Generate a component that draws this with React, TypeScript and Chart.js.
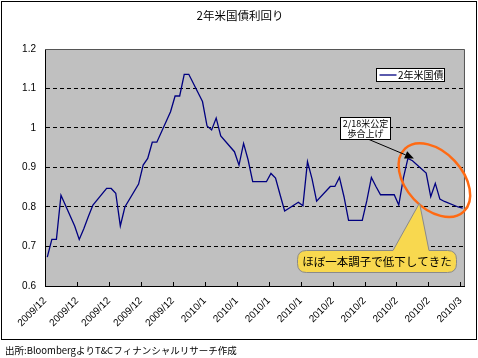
import { useEffect, useRef } from "react";
import { Chart, registerables } from "chart.js";

Chart.register(...registerables);

// ---- data ----
const chartTitle = "2年米国債利回り";
const seriesLabel = "2年米国債";
const sourceNote = "出所:BloombergよりT&Cフィナンシャルリサーチ作成";
const calloutLines = ["2/18米公定", "歩合上げ"];
const trendNote = "ほぼ一本調子で低下してきた";

const dates = [
  "2009-12-01", "2009-12-02", "2009-12-03", "2009-12-04", "2009-12-07", "2009-12-08",
  "2009-12-09", "2009-12-10", "2009-12-11", "2009-12-14", "2009-12-15", "2009-12-16",
  "2009-12-17", "2009-12-18", "2009-12-21", "2009-12-22", "2009-12-23", "2009-12-24",
  "2009-12-25", "2009-12-28", "2009-12-29", "2009-12-30", "2009-12-31", "2010-01-01",
  "2010-01-04", "2010-01-05", "2010-01-06", "2010-01-07", "2010-01-08", "2010-01-11",
  "2010-01-12", "2010-01-13", "2010-01-14", "2010-01-15", "2010-01-18", "2010-01-19",
  "2010-01-20", "2010-01-21", "2010-01-22", "2010-01-25", "2010-01-26", "2010-01-27",
  "2010-01-28", "2010-01-29", "2010-02-01", "2010-02-02", "2010-02-03", "2010-02-04",
  "2010-02-05", "2010-02-08", "2010-02-09", "2010-02-10", "2010-02-11", "2010-02-12",
  "2010-02-15", "2010-02-16", "2010-02-17", "2010-02-18", "2010-02-19", "2010-02-22",
  "2010-02-23", "2010-02-24", "2010-02-25", "2010-02-26", "2010-03-01", "2010-03-02",
];

const yields = [
  0.673, 0.718, 0.718, 0.830, 0.752, 0.718,
  0.745, 0.776, 0.805, 0.847, 0.847, 0.835,
  0.752, 0.800, 0.858, 0.906, 0.923, 0.964,
  0.964, 1.041, 1.081, 1.081, 1.136, 1.136,
  1.067, 1.005, 0.995, 1.025, 0.980, 0.940,
  0.906, 0.961, 0.919, 0.864, 0.864, 0.885,
  0.873, 0.831, 0.790, 0.812, 0.803, 0.915,
  0.871, 0.815, 0.852, 0.852, 0.875, 0.826,
  0.766, 0.766, 0.816, 0.875, 0.852, 0.831,
  0.831, 0.805, 0.873, 0.923, 0.917, 0.886,
  0.826, 0.860, 0.820, 0.814, 0.800, 0.797,
];

const xTickLabels = [
  "2009/12", "2009/12", "2009/12", "2009/12", "2009/12",
  "2010/1", "2010/1", "2010/1", "2010/1",
  "2010/2", "2010/2", "2010/2", "2010/2",
  "2010/3",
];
const yTicks = [0.6, 0.7, 0.8, 0.9, 1.0, 1.1, 1.2];

// ---- helpers ----
const START = Date.UTC(2009, 11, 1);
const DAY = 86400000;
const dayIndex = (s: string) => {
  const [y, m, d] = s.split("-").map(Number);
  return (Date.UTC(y, m - 1, d) - START) / DAY;
};
const X_MAX = dayIndex("2010-03-03");
const TICK_STEP = 7;

const FONT_JP = "'Noto Sans CJK JP', 'Noto Sans', sans-serif";
const FONT_LAT = "'Liberation Sans', Arial, sans-serif";
const LINE_COLOR = "#000080";

const decorPlugin = {
  id: "decor",
  beforeDraw(chart: any) {
    const { ctx, chartArea: a } = chart;
    ctx.save();
    ctx.fillStyle = "#ffffff";
    ctx.fillRect(0, 0, chart.width, chart.height);
    ctx.fillStyle = "#c0c0c0";
    ctx.fillRect(a.left, a.top, a.right - a.left, a.bottom - a.top);
    ctx.restore();
  },
  afterDraw(chart: any) {
    const { ctx, chartArea: a } = chart;
    const xs = chart.scales.x;
    const ys = chart.scales.y;
    ctx.save();

    // plot border (top / right)
    ctx.strokeStyle = "#555555";
    ctx.lineWidth = 1;
    ctx.beginPath();
    ctx.moveTo(a.left, a.top + 0.5);
    ctx.lineTo(a.right - 0.5, a.top + 0.5);
    ctx.lineTo(a.right - 0.5, a.bottom);
    ctx.stroke();

    // x tick marks (inside)
    ctx.strokeStyle = "#000";
    ctx.beginPath();
    xs.ticks.forEach((t: any) => {
      const px = Math.round(xs.getPixelForValue(t.value)) + 0.5;
      ctx.moveTo(px, a.bottom);
      ctx.lineTo(px, a.bottom - 4);
    });
    ctx.stroke();

    // orange ellipse
    const ecx = xs.getPixelForValue(85.3);
    const ecy = ys.getPixelForValue(0.868);
    ctx.strokeStyle = "#ff6a13";
    ctx.lineWidth = 2.5;
    ctx.beginPath();
    ctx.ellipse(ecx, ecy, 43, 28, (47 * Math.PI) / 180, 0, Math.PI * 2);
    ctx.stroke();

    // callout box with arrow
    const spikeIdx = dates.indexOf("2010-02-18");
    const tipX = xs.getPixelForValue(dayIndex(dates[spikeIdx]) + 0.5) + 6;
    const tipY = ys.getPixelForValue(yields[spikeIdx]);
    const bx = 340.5, by = 117.5, bw = 50, bh = 22;
    const sx = 369, sy = by + bh;
    ctx.strokeStyle = "#000";
    ctx.lineWidth = 1;
    const ang = Math.atan2(tipY - sy, tipX - sx);
    const hl = 9, hw = 4;
    const baseX = tipX - hl * Math.cos(ang), baseY = tipY - hl * Math.sin(ang);
    ctx.beginPath();
    ctx.moveTo(sx, sy);
    ctx.lineTo(baseX, baseY);
    ctx.stroke();
    ctx.fillStyle = "#000";
    ctx.beginPath();
    ctx.moveTo(tipX, tipY);
    ctx.lineTo(baseX + hw * Math.sin(ang), baseY - hw * Math.cos(ang));
    ctx.lineTo(baseX - hw * Math.sin(ang), baseY + hw * Math.cos(ang));
    ctx.closePath();
    ctx.fill();
    ctx.fillStyle = "#fff";
    ctx.fillRect(bx, by, bw, bh);
    ctx.strokeRect(bx, by, bw, bh);
    ctx.fillStyle = "#000";
    ctx.font = `9px ${FONT_JP}`;
    ctx.textAlign = "center";
    ctx.textBaseline = "middle";
    ctx.fillText(calloutLines[0], bx + bw / 2, by + 6);
    ctx.fillText(calloutLines[1], bx + bw / 2, by + 16);

    // yellow callout
    const rx = 297.5, ry = 250.5, rw = 159, rh = 22, r = 9;
    const apX = 419.5, apY = 203;
    const b1 = 393, b2 = 429;
    ctx.beginPath();
    ctx.moveTo(rx + r, ry);
    ctx.lineTo(b1, ry);
    ctx.lineTo(apX, apY);
    ctx.lineTo(b2, ry);
    ctx.lineTo(rx + rw - r, ry);
    ctx.quadraticCurveTo(rx + rw, ry, rx + rw, ry + r);
    ctx.lineTo(rx + rw, ry + rh - r);
    ctx.quadraticCurveTo(rx + rw, ry + rh, rx + rw - r, ry + rh);
    ctx.lineTo(rx + r, ry + rh);
    ctx.quadraticCurveTo(rx, ry + rh, rx, ry + rh - r);
    ctx.lineTo(rx, ry + r);
    ctx.quadraticCurveTo(rx, ry, rx + r, ry);
    ctx.closePath();
    ctx.fillStyle = "#f8d84f";
    ctx.fill();
    ctx.strokeStyle = "#8a8a8a";
    ctx.lineWidth = 1;
    ctx.stroke();
    ctx.fillStyle = "#000";
    ctx.font = `11.5px ${FONT_JP}`;
    ctx.textAlign = "center";
    ctx.fillText(trendNote, rx + rw / 2, ry + rh / 2 + 0.5);

    // legend
    const lx = 376.5, ly = 68.5, lw = 68, lh = 13;
    ctx.fillStyle = "#fff";
    ctx.fillRect(lx, ly, lw, lh);
    ctx.strokeStyle = "#000";
    ctx.strokeRect(lx, ly, lw, lh);
    ctx.strokeStyle = LINE_COLOR;
    ctx.lineWidth = 1.3;
    ctx.beginPath();
    ctx.moveTo(lx + 3, ly + 6.5);
    ctx.lineTo(lx + 20, ly + 6.5);
    ctx.stroke();
    ctx.fillStyle = "#000";
    ctx.font = `10px ${FONT_JP}`;
    ctx.textAlign = "left";
    ctx.fillText(seriesLabel, lx + 21.5, ly + 7);

    // title
    ctx.font = `11.5px ${FONT_JP}`;
    ctx.textAlign = "center";
    ctx.fillText(chartTitle, 240, 16);

    // outer frame
    ctx.strokeStyle = "#000";
    ctx.lineWidth = 1;
    ctx.strokeRect(1.5, 1.5, 475, 338);

    // source note
    ctx.font = `9.5px ${FONT_JP}`;
    ctx.textAlign = "left";
    ctx.fillText(sourceNote, 5, 350);

    ctx.restore();
  },
};

export default function App() {
  const canvasRef = useRef<HTMLCanvasElement | null>(null);

  useEffect(() => {
    document.body.style.margin = "0";
    const canvas = canvasRef.current;
    if (!canvas) return;
    const points = dates.map((d, i) => ({ x: dayIndex(d) + 0.5, y: yields[i] }));

    const chart = new Chart(canvas, {
      type: "line",
      data: {
        datasets: [
          {
            label: seriesLabel,
            data: points,
            borderColor: LINE_COLOR,
            borderWidth: 1.3,
            pointRadius: 0,
            tension: 0,
            fill: false,
          },
        ],
      },
      options: {
        animation: false,
        responsive: false,
        devicePixelRatio: 1,
        layout: { padding: { left: 0, top: 49, right: 10, bottom: 0 } },
        plugins: {
          legend: { display: false },
          title: { display: false },
          tooltip: { enabled: false },
        },
        scales: {
          x: {
            type: "linear",
            min: 0,
            max: X_MAX,
            afterFit: (s: any) => {
              s.height = 72;
            },
            afterBuildTicks: (s: any) => {
              s.ticks = xTickLabels.map((_, i) => ({ value: i * TICK_STEP }));
            },
            ticks: {
              autoSkip: false,
              maxRotation: 45,
              minRotation: 45,
              padding: 9,
              color: "#000",
              font: { family: FONT_LAT, size: 10 },
              callback: (_v: any, i: number) => xTickLabels[i],
            },
            grid: { display: false, drawTicks: false },
            border: { display: true, color: "#000", width: 1 },
          },
          y: {
            min: 0.6,
            max: 1.2,
            afterFit: (s: any) => {
              s.width = 45;
            },
            afterBuildTicks: (s: any) => {
              s.ticks = yTicks.map((v) => ({ value: v }));
            },
            ticks: {
              padding: 9,
              color: "#000",
              font: { family: FONT_LAT, size: 10 },
              callback: (v: any) => String(Math.round(Number(v) * 10) / 10),
            },
            grid: {
              drawTicks: false,
              lineWidth: 1,
              color: (c: any) => {
                const v = c.tick ? c.tick.value : 0;
                return Math.abs(v - 0.6) < 1e-6 || Math.abs(v - 1.2) < 1e-6
                  ? "rgba(0,0,0,0)"
                  : "#000";
              },
            },
            border: { display: true, color: "#000", width: 1, dash: [4, 3] },
          },
        },
      },
      plugins: [decorPlugin],
    });
    return () => chart.destroy();
  }, []);

  return (
    <div style={{ width: 478, height: 358 }}>
      <canvas ref={canvasRef} width={478} height={358} style={{ display: "block" }} />
    </div>
  );
}
